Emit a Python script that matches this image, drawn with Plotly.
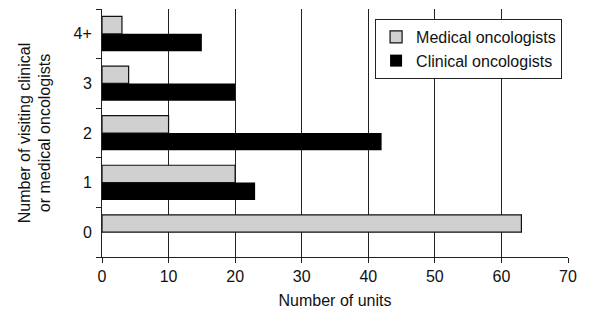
import plotly.graph_objects as go

categories = ["0", "1", "2", "3", "4+"]
medical = [63, 20, 10, 4, 3]
clinical = [0, 23, 42, 20, 15]
x_ticks = [0, 10, 20, 30, 40, 50, 60, 70]

font = dict(family="Liberation Sans, Arial, sans-serif", size=16, color="#111")

fig = go.Figure()
fig.add_trace(go.Bar(
    y=categories, x=clinical, orientation="h", name="Clinical oncologists",
    marker=dict(color="#000000", line=dict(width=0)),
    legendrank=2,
))
fig.add_trace(go.Bar(
    y=categories, x=medical, orientation="h", name="Medical oncologists",
    marker=dict(color="#d0d0d0", line=dict(color="#111111", width=1.2)),
    legendrank=1,
))

fig.update_layout(
    width=592, height=313,
    margin=dict(l=102, r=24, t=9, b=56),
    paper_bgcolor="white", plot_bgcolor="white",
    font=font,
    barmode="group", bargap=0.30, bargroupgap=0,
    showlegend=True,
    legend=dict(
        x=0.586, y=0.96, xanchor="left", yanchor="top",
        bordercolor="#222", borderwidth=1, bgcolor="white",
        font=dict(family="Liberation Sans, Arial, sans-serif", size=16, color="#111"),
        tracegroupgap=0, itemwidth=30,
    ),
    xaxis=dict(
        range=[0, 70], tickvals=x_ticks, ticktext=[str(v) for v in x_ticks],
        showgrid=True, gridcolor="#222", gridwidth=1,
        showline=True, linecolor="#222", linewidth=1,
        ticks="outside", ticklen=5, tickcolor="#222",
        zeroline=False, automargin=False,
        title=dict(text="Number of units", standoff=10, font=font),
    ),
    yaxis=dict(
        type="category", categoryorder="array", categoryarray=categories,
        showline=True, linecolor="#222", linewidth=1,
        ticks="outside", ticklen=5, tickcolor="#222", tickson="boundaries",
        ticklabelstandoff=6,
        showgrid=False, zeroline=False, automargin=False,
        title=dict(text="Number of visiting clinical<br>or medical oncologists", standoff=18, font=font),
    ),
)

fig.write_html("out.html", config={"displayModeBar": False},
               post_script="document.body.style.margin='0';")
